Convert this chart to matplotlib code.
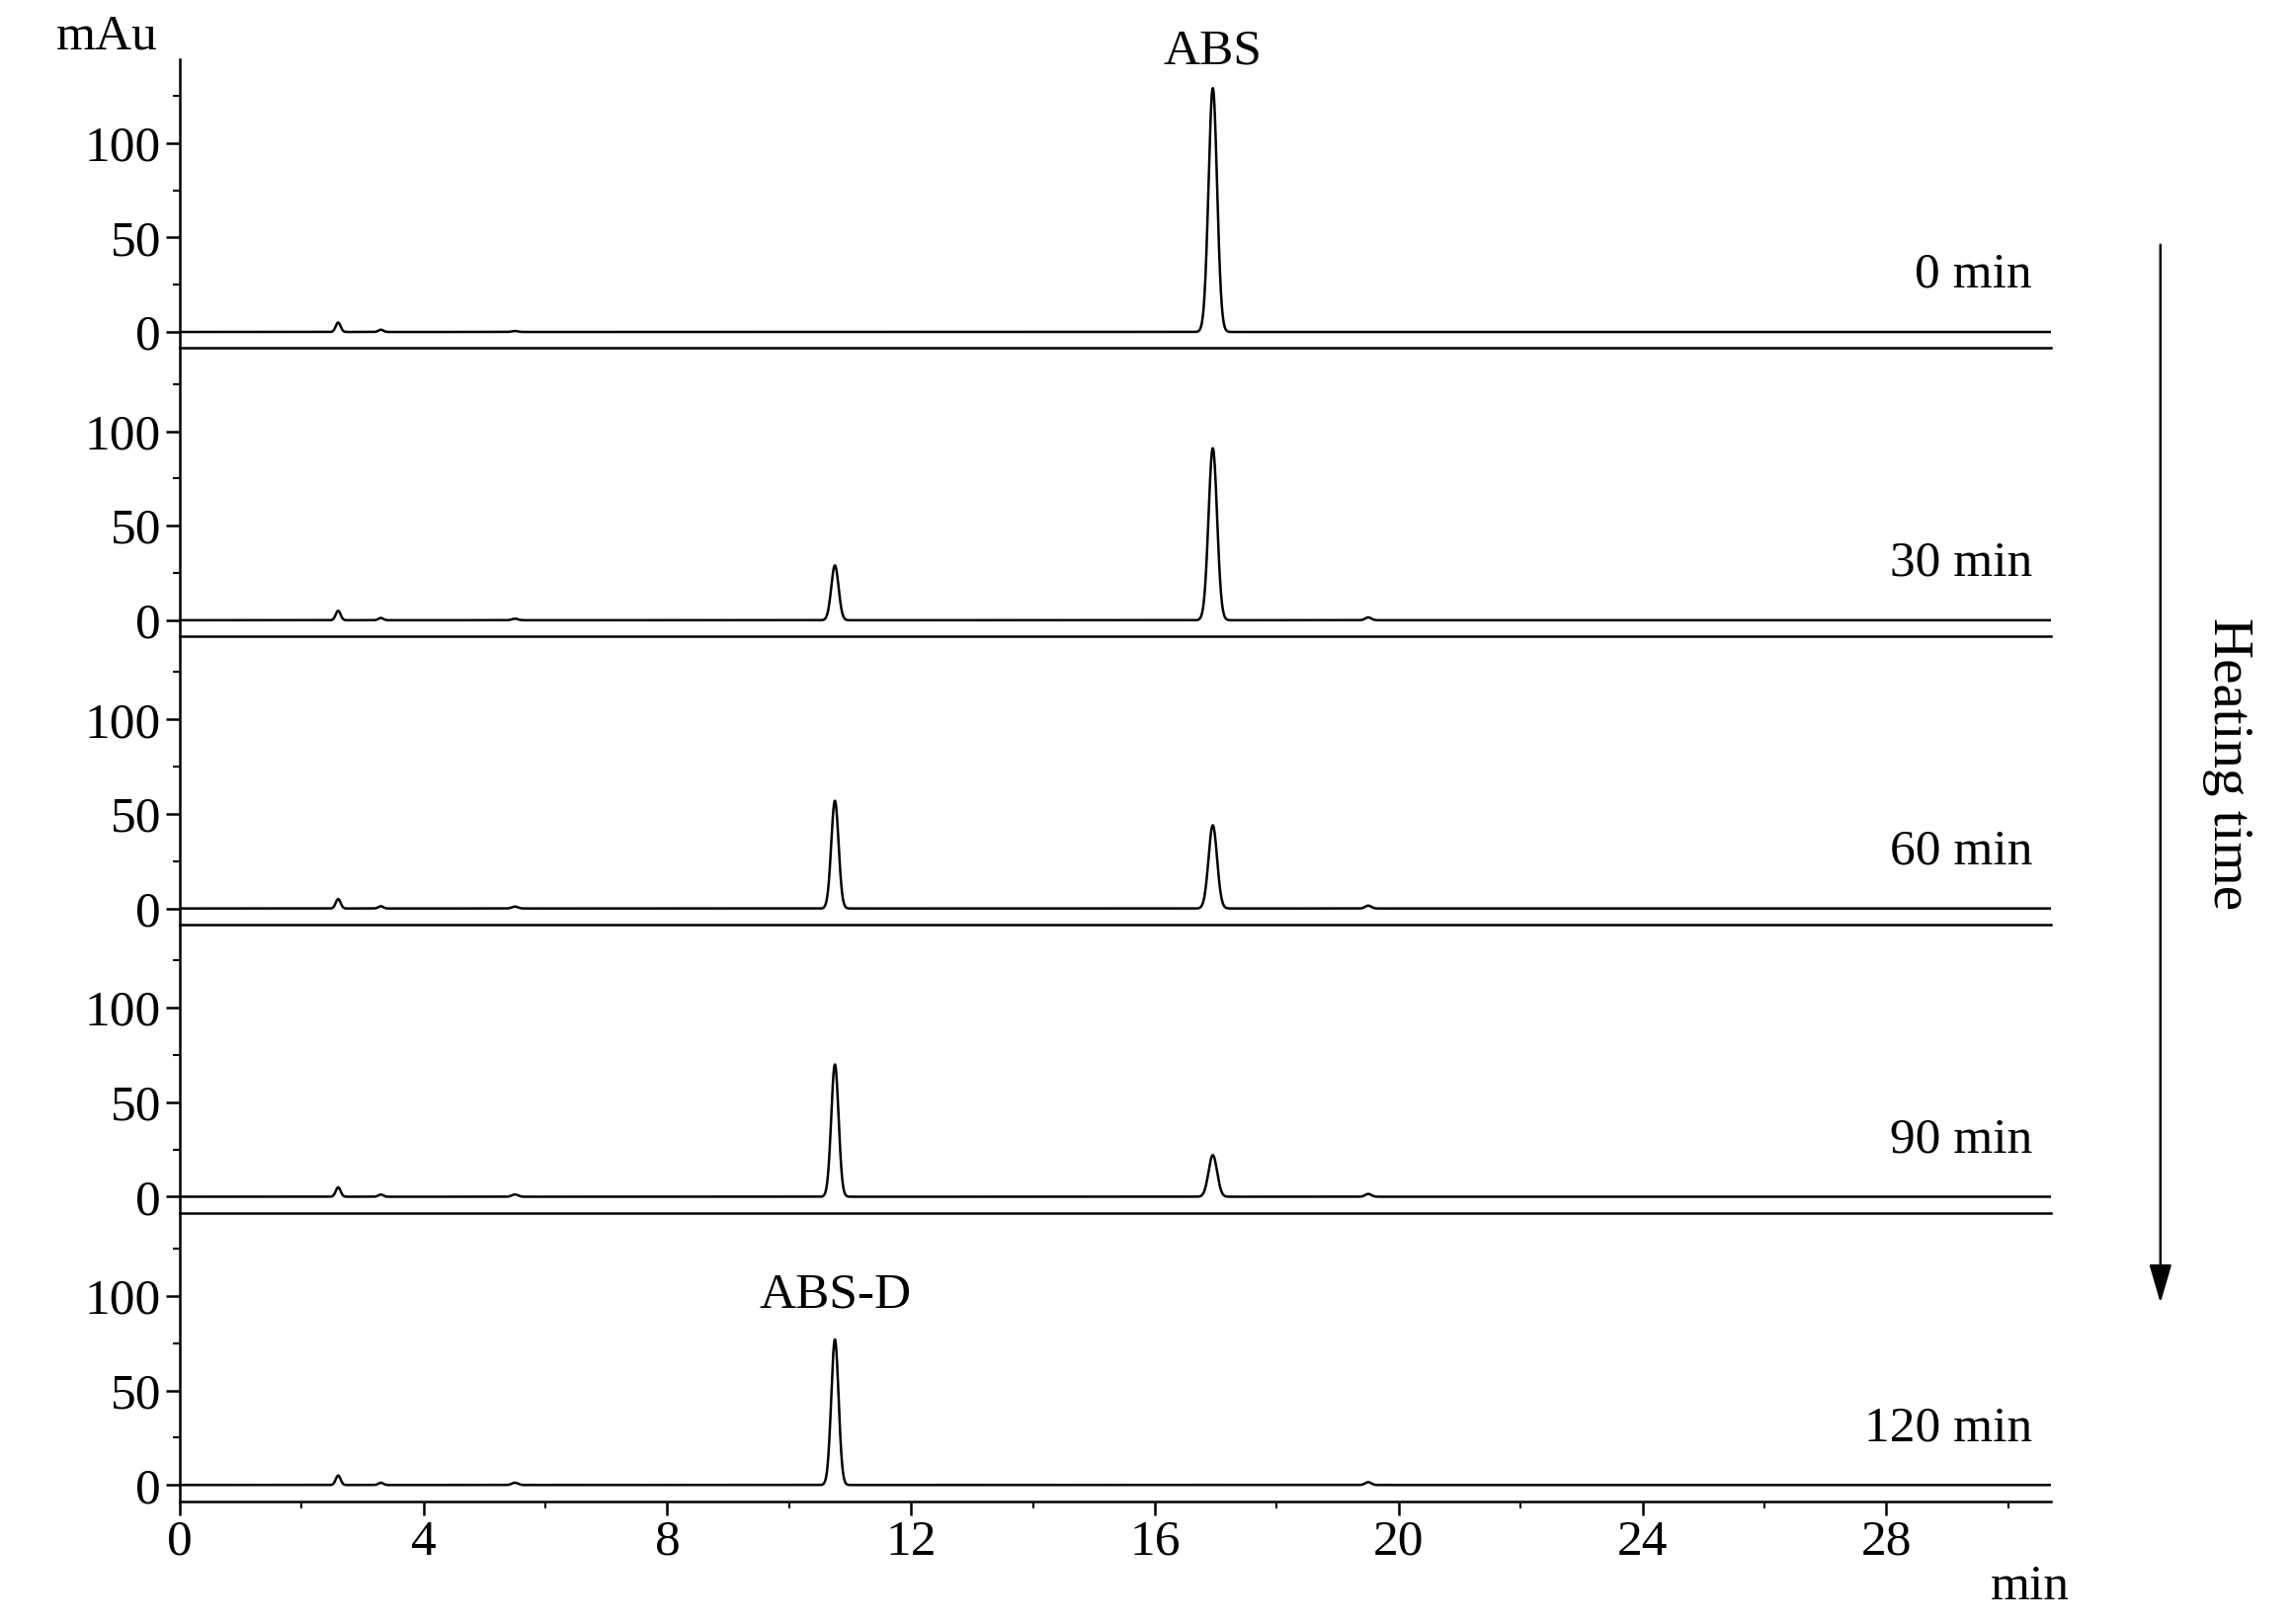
import matplotlib
matplotlib.use("Agg")
import matplotlib.pyplot as plt
import numpy as np
from matplotlib.ticker import MultipleLocator

plt.rcParams['font.family'] = ['Liberation Serif', 'DejaVu Serif']

# heating time labels, top to bottom
labels = ["0 min", "30 min", "60 min", "90 min", "120 min"]
# peak retention times (min)
peak_times = [2.6, 3.3, 5.5, 10.75, 16.95, 19.5]
peak_widths = [0.04, 0.04, 0.05, 0.06, 0.07, 0.05]
# peak heights (mAu) per trace, same order as peak_times
heights = [
    [5, 1.2, 0.5, 0.0, 129, 0.0],
    [5, 1.2, 0.8, 29, 91, 1.5],
    [5, 1.2, 1.0, 57, 44, 1.5],
    [5, 1.2, 1.2, 70, 22, 1.5],
    [5, 1.2, 1.2, 77, 0.0, 1.5],
]

t = np.linspace(0, 30.7, 8000)

fig = plt.figure(figsize=(23.2, 16.44), dpi=100)
left, right = 0.0784, 0.8948
bottom0 = 0.0757
h = 0.1775
fs = 37

for i, lab in enumerate(labels):
    b = bottom0 + (4 - i) * h
    ax = fig.add_axes([left, b, right - left, h])
    ax.patch.set_alpha(0)
    y = np.zeros_like(t)
    for pt, pw, ph in zip(peak_times, peak_widths, heights[i]):
        y += ph * np.exp(-0.5 * ((t - pt) / pw) ** 2)
    ax.plot(t, y, color="black", lw=1.8)
    ax.set_xlim(0, 30.7)
    ax.set_ylim(-8.5, 144)
    for s in ["top", "right"]:
        ax.spines[s].set_visible(False)
    for s in ["left", "bottom"]:
        ax.spines[s].set_linewidth(1.8)
        ax.spines[s].set_zorder(5)
    ax.set_yticks([0, 50, 100])
    ax.yaxis.set_minor_locator(MultipleLocator(25))
    ax.xaxis.set_major_locator(MultipleLocator(4))
    ax.xaxis.set_minor_locator(MultipleLocator(2))
    ax.tick_params(axis="y", which="major", length=10, width=1.8, labelsize=fs)
    ax.tick_params(axis="y", which="minor", length=5, width=1.5)
    ax.tick_params(axis="x", which="major", length=10, width=1.8, labelsize=fs)
    ax.tick_params(axis="x", which="minor", length=5, width=1.5)
    if i < 4:
        ax.tick_params(axis="x", which="both", bottom=False, labelbottom=False)
    ax.text(0.99, 30, lab, transform=ax.get_yaxis_transform(), ha="right",
            va="center", fontsize=fs)
    if i == 0:
        ax.text(16.95, 136, "ABS", ha="center", va="bottom", fontsize=fs)
        ax.text(-0.012, 1.08, "mAu", transform=ax.transAxes, ha="right",
                va="center", fontsize=fs)
    if i == 4:
        ax.text(10.75, 88, "ABS-D", ha="center", va="bottom", fontsize=fs)
        ax.text(1.01, -0.3, "min", transform=ax.transAxes, ha="right",
                va="center", fontsize=fs)

fig.add_artist(matplotlib.patches.FancyArrowPatch(
    (0.9426, 0.851), (0.9426, 0.196), transform=fig.transFigure,
    arrowstyle="-|>,head_length=1.2,head_width=0.35", color="black", lw=1.8,
    mutation_scale=20))
fig.text(0.972, 0.53, "Heating time", rotation=-90, ha="center", va="center",
         fontsize=fs + 4)

fig.savefig("out.png", dpi=100)
